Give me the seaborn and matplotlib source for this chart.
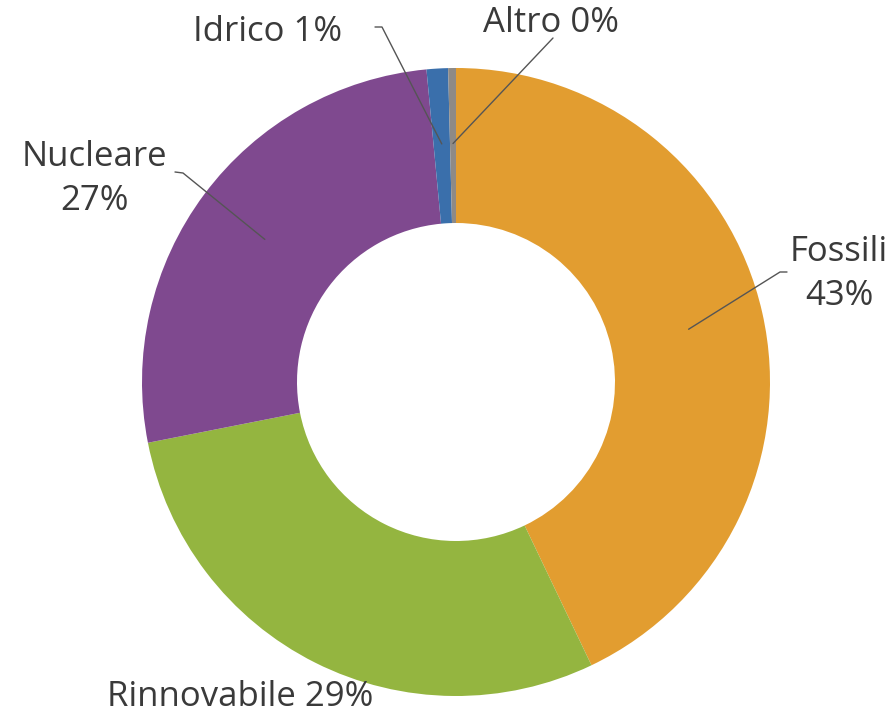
import numpy as np
import matplotlib
matplotlib.use("Agg")
import matplotlib.pyplot as plt
import seaborn as sns

# ---- data ----
categories = ["Fossili", "Rinnovabile", "Nucleare", "Idrico", "Altro"]
shares = [42.9, 29.0, 26.6, 1.1, 0.4]
colors = ["#E29D30", "#94B540", "#7F498F", "#3A6FAB", "#8E8A86"]

# ---- layout (pixel coordinates of the 896x721 canvas, y downward) ----
W, H = 896, 721
CX, CY = 456, 382
R_OUT, R_IN = 314, 159
label_sep = ["\n", " ", "\n", " ", " "]
label_pos = [(839, 274), (240, 697), (94, 179), (268, 32), (551, 23)]
# elbow / end of leader line near the label (None = no leader)
leader_tail = [
    [(780, 272), (787, 272)],
    None,
    [(183, 173), (175, 172)],
    [(382, 27), (375, 27)],
    [(553, 38)],
]

sns.set_theme(style="white")
plt.rcParams["font.family"] = ["Open Sans", "DejaVu Sans"]

fig = plt.figure(figsize=(W / 100, H / 100), dpi=100)
ax = fig.add_axes([0, 0, 1, 1])

def fy(y):
    return H - y

wedges, _ = ax.pie(
    shares,
    colors=colors,
    startangle=90,
    counterclock=False,
    radius=R_OUT,
    center=(CX, fy(CY)),
    wedgeprops=dict(width=R_OUT - R_IN, edgecolor="none", linewidth=0),
)

ax.set_xlim(0, W)
ax.set_ylim(0, H)
ax.set_aspect("equal")
ax.axis("off")

r_mid = (R_OUT + R_IN) / 2 + 2
for i, (w, cat, v) in enumerate(zip(wedges, categories, shares)):
    txt = f"{cat}{label_sep[i]}{v:.0f}%"
    lx, ly = label_pos[i]
    ax.text(lx, fy(ly), txt, ha="center", va="center", fontsize=25,
            color="#3a3a3a", linespacing=1.4)
    if leader_tail[i] is not None:
        ang = np.deg2rad((w.theta1 + w.theta2) / 2)
        px = CX + r_mid * np.cos(ang)
        py = fy(CY) + r_mid * np.sin(ang)
        xs = [px] + [p[0] for p in leader_tail[i]]
        ys = [py] + [fy(p[1]) for p in leader_tail[i]]
        ax.plot(xs, ys, color="#555555", lw=1.0, solid_capstyle="round")

fig.savefig("out.png", dpi=100)
